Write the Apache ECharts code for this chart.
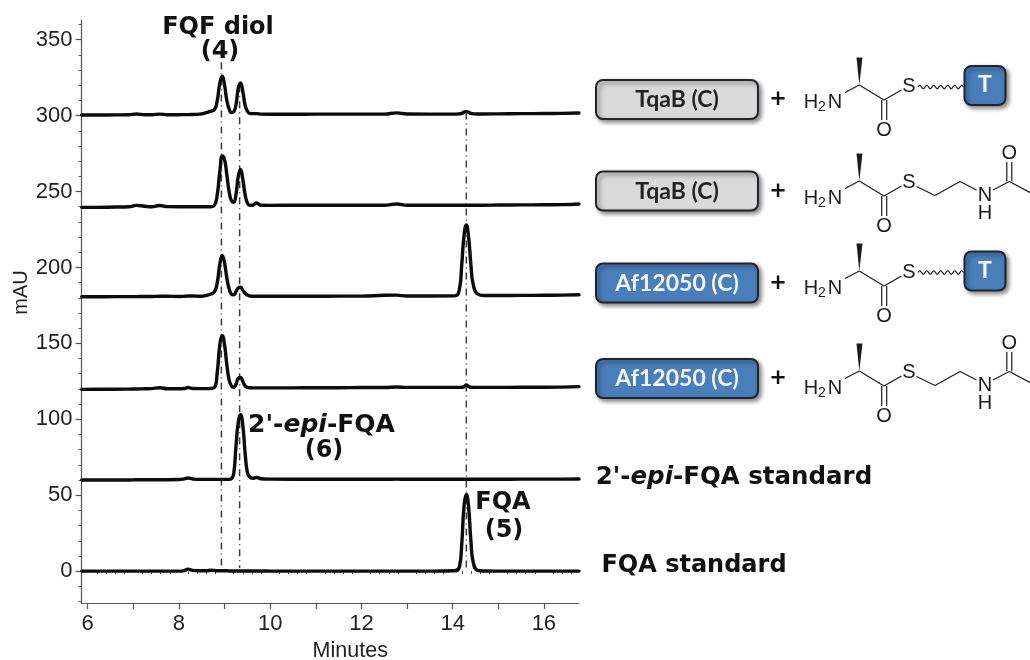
<!DOCTYPE html>
<html>
<head>
<meta charset="utf-8">
<style>html,body{margin:0;padding:0;background:#fff}#c{width:1030px;height:660px;filter:blur(0.5px)}</style>
<script src="https://cdn.jsdelivr.net/npm/echarts@6/dist/echarts.min.js"></script>
</head>
<body>
<div id="c"></div>
<script>
// Retention time samples (minutes) shared by every trace
const minutes = [
  5.87,6.2,6.6,6.9,7.07,7.25,7.4,7.58,7.75,8.0,8.12,8.2,8.3,8.45,8.6,
  8.7,8.78,8.84,8.9,8.95,9.0,9.05,9.1,9.15,9.2,9.25,9.3,9.35,9.4,9.45,9.5,9.55,9.62,9.7,9.8,
  10.0,10.5,11.0,11.5,12.0,12.5,12.77,13.0,13.5,
  14.05,14.15,14.2,14.25,14.3,14.35,14.4,14.45,14.55,14.7,
  15.0,15.5,16.0,16.4,16.77];
// Absorbance (mAU)
const tqabT = [
  300.4,300.4,300.5,300.6,301.1,300.6,300.6,301,300.6,300.6,300.7,300.7,300.8,301,302,
  303,304,310,322,326,320,310,304.5,302,302.5,307,318,321.5,316,307,303,301.5,301.3,301.3,301,
  300.9,300.9,301,301,301,301,301.8,301.1,301,
  301,301.2,301.5,302.3,302.8,302.2,301.5,301.2,301.1,301.1,
  301.2,301.3,301.4,301.5,301.7];
const tqabSnac = [
  239.6,239.6,239.8,240,240.9,240.3,240,240.8,240.1,240,240,240,240,240,240,
  240,241,248,264,273.5,271,261,250,244,243,248,260,264.5,258,248,242.5,241,241,242.5,241,
  240.9,241,241,241,241,241,241.8,241,241,
  241,241,241,241,241,241,241,241,241,241,
  241.1,241.2,241.3,241.4,241.8];
const af12050T = [
  180.7,180.7,180.8,180.8,180.8,180.9,180.9,181,181,180.9,181,181.2,181.2,181,181.6,
  182.5,184,190,203,208,203,193,186,182.5,182,184,186.5,187,185,183,181.8,181.3,181,181,181,
  181,181,181,181.1,181.1,181.7,181.8,181.2,181.2,
  181.3,186,202,221,228,220,202,189,182.5,181.5,
  181.5,181.6,181.7,181.8,182];
const af12050Snac = [
  119.7,119.8,119.8,119.9,120,120.1,120.2,120.8,120.1,120.1,120.3,120.9,120.3,120.2,120.2,
  120.4,121,131,150,155,149,136,126,122,121,123,127,127.5,125,122,121,120.8,120.7,120.7,120.7,
  120.7,120.7,120.8,120.8,120.9,120.9,121.3,121,121,
  121,121,121.1,121.5,122.6,121.6,121.1,121,121,121,
  121,121.1,121.1,121.2,121.5];
const epiFqaStd = [
  60,60,60,60,60.2,60.2,60.2,60.2,60.2,60.3,60.8,61.3,60.7,60.4,60.4,
  60.4,60.4,60.4,60.4,60.4,60.4,60.4,60.4,60.8,64,82,98,103,96,78,65,62,61.2,61.7,60.8,
  60.6,60.5,60.5,60.5,60.5,60.5,60.6,60.5,60.5,
  60.5,60.5,60.5,60.5,60.5,60.5,60.5,60.5,60.5,60.5,
  60.5,60.6,60.6,60.6,60.7];
const fqaStd = [
  0,0,0,0,0,0,0,0,0,0,0.4,1.3,0.5,0.2,0.2,
  0.6,0.4,0.2,0.2,0.2,0.2,0.2,0.1,0.1,0.1,0.1,0.1,0.1,0.1,0.1,0.1,0.1,0.1,0.1,0.1,
  0,0,0,0,0,0,0,0,0,
  0.2,3,18,43,50.5,42,20,6,0.5,0.1,
  0,0,0,0,0];
const traces = [tqabT, tqabSnac, af12050T, af12050Snac, epiFqaStd, fqaStd];
// Dash-dot retention time guides: [minutes, top mAU, bottom mAU]
const guides = [[8.93,335,2],[9.33,320,2],[14.3,302,0]];
// Tick values
const xMajor = [6,7,8,9,10,11,12,13,14,15,16];
const xLabelled = [6,8,10,12,14,16];
const yMajor = [0,50,100,150,200,250,300,350];
const xMinor = [6.2,6.4,6.6,6.8,7.2,7.4,7.6,7.8,8.2,8.4,8.6,8.8,9.2,9.4,9.6,9.8,10.2,10.4,10.6,10.8,11.2,11.4,11.6,11.8,12.2,12.4,12.6,12.8,13.2,13.4,13.6,13.8,14.2,14.4,14.6,14.8,15.2,15.4,15.6,15.8,16.2,16.4,16.6];
const yMinor = [-20,-10,10,20,30,40,60,70,80,90,110,120,130,140,160,170,180,190,210,220,230,240,260,270,280,290,310,320,330,340,360];

const INK = '#1c1c1c', BLUE = '#4a7ebb', GREY = '#d9d9d9';
const BOLD = '"DejaVu Sans"', SANS = '"Liberation Sans"', LABEL = 'Lato';

function txt(x, y, text, size, font, weight, fill, extra) {
  return {type:'text', x, y, z:20, style:Object.assign({text, fontSize:size, fontFamily:font, fontWeight:weight||'normal',
    fill:fill||INK, align:'center', verticalAlign:'middle'}, extra||{})};
}
function seg(x1, y1, x2, y2, w) {
  return {type:'line', z:15, shape:{x1,y1,x2,y2}, style:{stroke:INK, lineWidth:w||1.2}};
}
function box(x, y, w, h, fill, r, lw) {
  return {type:'rect', z:14, shape:{x,y,width:w,height:h,r:r},
    style:{fill, stroke:'#20242c', lineWidth:lw||2, shadowBlur:4, shadowOffsetX:2.5, shadowOffsetY:2.5, shadowColor:'rgba(0,0,0,0.45)'}};
}
function enzyme(y, name, blue) {
  return [box(596, y, 162, 39, blue?BLUE:GREY, 7),
    txt(677, y+20, name, 23, LABEL, 'bold', blue?'#f4f7fb':'#222'),
    txt(778, y+20, '+', 21, BOLD, 'bold', '#111')];
}
function core(dy) {   // aminoacyl thioester; dy shifts the whole drawing
  const y = v => v + dy;
  return [
    txt(811, y(102), 'H', 20, SANS), txt(822, y(107), '2', 14, SANS), txt(835, y(102), 'N', 20, SANS),
    seg(845, y(92.5), 859.3, y(85)),
    {type:'polygon', z:15, shape:{points:[[859.3,y(85)],[856.5,y(57.5)],[862.5,y(57.5)]]}, style:{fill:INK}},
    seg(859.3, y(85), 884, y(100)),
    seg(881.7, y(100), 881.7, y(120)), seg(886.7, y(100), 886.7, y(120)),
    txt(884, y(130), 'O', 20, SANS),
    seg(884, y(100), 901.5, y(90)),
    txt(909, y(86.5), 'S', 20, SANS)
  ];
}
function wavyT(dy) {
  const pts = [];
  for (let i = 0; i <= 26; i++) pts.push([918 + i*1.75, 87 + dy + (i%4===1?-1.8:i%4===3?1.8:0)]);
  return [{type:'polyline', z:15, shape:{points:pts, smooth:0.4}, style:{stroke:INK, lineWidth:1.1, fill:null}},
    box(964.5, 66 + dy, 41, 39, BLUE, 7),
    txt(985, 85 + dy, 'T', 23, LABEL, 'bold', '#f4f7fb')];
}
function snac(dy) {
  const y = v => v + dy;
  return [
    seg(916.5,y(186.5),935,y(195.5)), seg(935,y(195.5),960,y(181.5)), seg(960,y(181.5),976.5,y(190)),
    txt(985,y(195.5),'N',20,SANS), txt(985,y(213),'H',20,SANS),
    seg(993,y(190),1009.3,y(181.5)), seg(1006.8,y(181.5),1006.8,y(162)), seg(1011.8,y(181.5),1011.8,y(162)),
    txt(1009.3,y(153),'O',20,SANS), seg(1009.3,y(181.5),1031,y(193))
  ];
}
const graphicEls = [].concat(
  enzyme(80,'TqaB (C)',false), core(0), wavyT(0),
  enzyme(171.5,'TqaB (C)',false), core(96), snac(0),
  enzyme(263.5,'Af12050 (C)',true), core(186), wavyT(185.5),
  enzyme(359,'Af12050 (C)',true), core(286), snac(190),
  [
    txt(218,28,'FQF diol',24,BOLD,'bold','#111'),
    txt(220,52,'(4)',24,BOLD,'bold','#111'),
    txt(321.5,425,"2'-{i|epi}-FQA",25,BOLD,'bold','#111',{rich:{i:{fontStyle:'italic',fontWeight:'bold',fontFamily:BOLD,fontSize:25,fill:'#111'}}}),
    txt(324,451,'(6)',24,BOLD,'bold','#111'),
    txt(503,503,'FQA',24,BOLD,'bold','#111'),
    txt(504,531,'(5)',24,BOLD,'bold','#111'),
    txt(734,478,"2'-{i|epi}-FQA standard",24.5,BOLD,'bold','#111',{rich:{i:{fontStyle:'italic',fontWeight:'bold',fontFamily:BOLD,fontSize:24.5,fill:'#111'}}}),
    txt(694,566,'FQA standard',24,BOLD,'bold','#111')
  ]
);

const xRange = {min:5.864, max:16.77}, yRange = {min:-21, max:363};
const hideExtra = {axisLine:{show:false}, splitLine:{show:false}, axisLabel:{show:false}};
const option = {
  animation:false,
  backgroundColor:'#fff',
  grid:{left:81.5, right:451, top:20, bottom:57, outerBoundsMode:'none'},
  xAxis:[
    Object.assign({type:'value', position:'bottom', name:'Minutes', nameLocation:'middle', nameGap:36,
      nameTextStyle:{fontFamily:SANS, fontSize:21.5, color:'#222', padding:[0,0,0,40]},
      axisLine:{show:true, onZero:false, lineStyle:{color:'#555', width:1.2}},
      axisTick:{show:true, length:6, customValues:xMajor, lineStyle:{color:'#555', width:1.2}},
      axisLabel:{show:true, customValues:xLabelled, formatter:v=>String(v), showMinLabel:true, showMaxLabel:true, hideOverlap:false,
        fontFamily:SANS, fontSize:22, color:'#222', margin:10},
      splitLine:{show:false}}, xRange),
    Object.assign({type:'value', position:'bottom', axisTick:{show:true, length:3, customValues:xMinor, lineStyle:{color:'#555', width:1}}}, hideExtra, xRange)
  ],
  yAxis:[
    Object.assign({type:'value', position:'left', name:'mAU', nameLocation:'middle', nameGap:43, nameRotate:90,
      nameTextStyle:{fontFamily:SANS, fontSize:20, color:'#222', padding:[0,0,0,38]},
      axisLine:{show:true, onZero:false, lineStyle:{color:'#555', width:1.2}},
      axisTick:{show:true, length:6, customValues:yMajor, lineStyle:{color:'#555', width:1.2}},
      axisLabel:{show:true, customValues:yMajor, formatter:v=>String(v), fontFamily:SANS, fontSize:22, color:'#222', margin:9, hideOverlap:false},
      splitLine:{show:false}}, yRange),
    Object.assign({type:'value', position:'left', axisTick:{show:true, length:3, customValues:yMinor, lineStyle:{color:'#555', width:1}}}, hideExtra, yRange)
  ],
  series: guides.map(g => ({
    type:'line', xAxisIndex:0, yAxisIndex:0, data:[[g[0],g[1]],[g[0],g[2]]], showSymbol:false, silent:true, z:1,
    lineStyle:{color:'#3c3c3c', width:1.5, type:[7,4,1,4]}
  })).concat(traces.map(vals => ({
    type:'line', xAxisIndex:0, yAxisIndex:0, data:vals.map((v,i)=>[minutes[i],v]), showSymbol:false, z:5,
    smooth:0.5, clip:true,
    lineStyle:{color:'#0c0c0c', width:3.4, join:'round', cap:'round'}
  }))),
  graphic:graphicEls
};
echarts.init(document.getElementById('c'), null, {renderer:'canvas'}).setOption(option);
</script>
</body>
</html>
